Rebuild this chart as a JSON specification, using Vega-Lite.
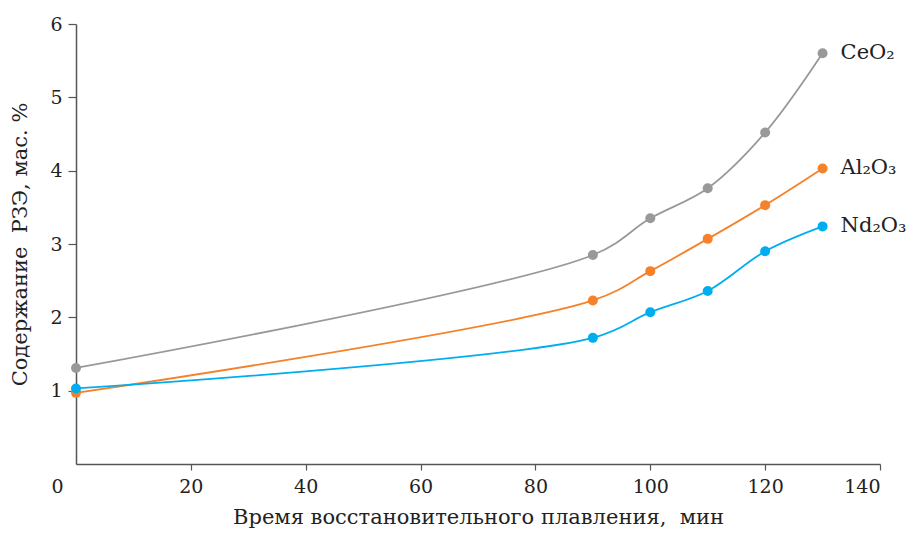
{
  "$schema": "https://vega.github.io/schema/vega-lite/v6.json",
  "autosize": "none",
  "width": 804,
  "height": 440,
  "padding": {"left": 76, "top": 24, "right": 31, "bottom": 69},
  "background": "white",
  "config": {
    "view": {"stroke": null},
    "font": "DejaVu Serif",
    "axis": {"labelFont": "DejaVu Serif", "titleFont": "DejaVu Serif", "labelFontSize": 19, "titleFontSize": 21, "titleFontWeight": "normal", "labelColor": "#222", "titleColor": "#222", "domainColor": "#555", "tickColor": "#555", "domainWidth": 1.5, "tickWidth": 1.2, "grid": false}
  },
  "data": {"values": [
    {"t": 0, "v": 1.31, "s": "CeO₂"},
    {"t": 90, "v": 2.85, "s": "CeO₂"},
    {"t": 100, "v": 3.35, "s": "CeO₂"},
    {"t": 110, "v": 3.76, "s": "CeO₂"},
    {"t": 120, "v": 4.52, "s": "CeO₂"},
    {"t": 130, "v": 5.6, "s": "CeO₂"},
    {"t": 0, "v": 0.97, "s": "Al₂O₃"},
    {"t": 90, "v": 2.23, "s": "Al₂O₃"},
    {"t": 100, "v": 2.63, "s": "Al₂O₃"},
    {"t": 110, "v": 3.07, "s": "Al₂O₃"},
    {"t": 120, "v": 3.53, "s": "Al₂O₃"},
    {"t": 130, "v": 4.03, "s": "Al₂O₃"},
    {"t": 0, "v": 1.03, "s": "Nd₂O₃"},
    {"t": 90, "v": 1.72, "s": "Nd₂O₃"},
    {"t": 100, "v": 2.07, "s": "Nd₂O₃"},
    {"t": 110, "v": 2.36, "s": "Nd₂O₃"},
    {"t": 120, "v": 2.9, "s": "Nd₂O₃"},
    {"t": 130, "v": 3.24, "s": "Nd₂O₃"}
  ]},
  "encoding": {
    "x": {"field": "t", "type": "quantitative", "scale": {"domain": [0, 140], "nice": false},
      "axis": {"values": [0, 20, 40, 60, 80, 100, 120, 140], "tickSize": 6, "labelPadding": 7,
        "labelOffset": {"condition": {"test": "datum.value == 0", "value": -25}, "value": 0},
        "tickOpacity": {"condition": {"test": "datum.value == 0", "value": 0}, "value": 1},
        "title": "Время восстановительного плавления,\u00a0\u00a0мин", "titlePadding": 10}},
    "y": {"field": "v", "type": "quantitative", "scale": {"domain": [0, 6], "nice": false},
      "axis": {"values": [1, 2, 3, 4, 5, 6], "tickSize": 8, "labelPadding": 6,
        "title": "Содержание\u00a0\u00a0РЗЭ, мас. %", "titlePadding": 19}},
    "color": {"field": "s", "type": "nominal", "legend": null,
      "scale": {"domain": ["CeO₂", "Al₂O₃", "Nd₂O₃"], "range": ["#999999", "#f5822a", "#00aeef"]}}
  },
  "layer": [
    {"mark": {"type": "line", "interpolate": "catmull-rom", "strokeWidth": 1.8}},
    {"mark": {"type": "point", "filled": true, "opacity": 1, "size": 100}},
    {"transform": [{"filter": "datum.t == 130"}],
     "mark": {"type": "text", "align": "left", "dx": 18, "fontSize": 21, "font": "DejaVu Serif", "color": "#222"},
     "encoding": {"text": {"field": "s"}, "color": {"value": "#222"}}}
  ]
}
